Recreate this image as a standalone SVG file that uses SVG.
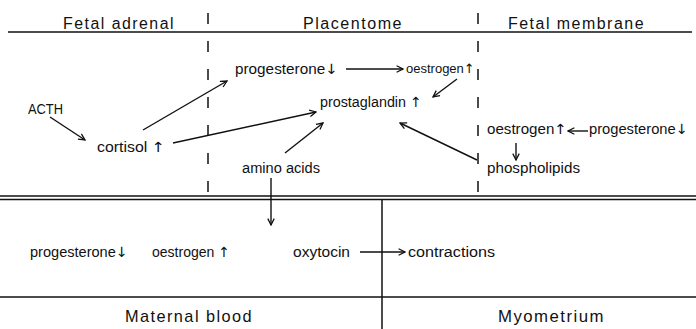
<svg xmlns="http://www.w3.org/2000/svg" width="696" height="329" viewBox="0 0 696 329">
<defs>
<marker id="ah" viewBox="0 0 10 10" refX="9" refY="5" markerWidth="8" markerHeight="8" orient="auto" markerUnits="userSpaceOnUse">
<path d="M1,1 L9,5 L1,9" fill="none" stroke="#111" stroke-width="1.6"/>
</marker>
</defs>
<style>
text{font-family:"Liberation Sans",Arial,sans-serif;fill:#111}
.h{font-size:16px;letter-spacing:1.5px}
.b{font-size:17px;letter-spacing:1.5px}
.t{font-size:14px}
.s{font-size:13px}
.a{font-family:"DejaVu Sans",sans-serif;fill:#111}
.ln{stroke:#111;stroke-width:1.5;fill:none}
.ds{stroke:#111;stroke-width:1.5;stroke-dasharray:11,17;fill:none}
.c{stroke:#111;stroke-width:1.4;fill:none;marker-end:url(#ah)}
</style>
<rect width="696" height="329" fill="#fff"/>
<g id="frame">
<line class="ln" x1="8" y1="32" x2="692" y2="32"/>
<line class="ln" x1="0" y1="196" x2="696" y2="196"/>
<line class="ln" x1="0" y1="199.5" x2="696" y2="199.5"/>
<line class="ln" x1="0" y1="297" x2="696" y2="297"/>
<line class="ln" x1="382" y1="199" x2="382" y2="329"/>
<line class="ds" x1="208" y1="13" x2="208" y2="203"/>
<line class="ds" x1="478" y1="13" x2="478" y2="203"/>
<text class="h" x="63" y="29" textLength="112" lengthAdjust="spacingAndGlyphs">Fetal adrenal</text>
<text class="h" x="303" y="29" textLength="100" lengthAdjust="spacingAndGlyphs">Placentome</text>
<text class="h" x="508" y="29" textLength="137" lengthAdjust="spacingAndGlyphs">Fetal membrane</text>
<text class="b" x="125" y="322" textLength="128" lengthAdjust="spacingAndGlyphs">Maternal blood</text>
<text class="b" x="498" y="322" textLength="107" lengthAdjust="spacingAndGlyphs">Myometrium</text>
</g>
<g id="n-prog1"><text class="t" x="235" y="74" textLength="103" lengthAdjust="spacingAndGlyphs">progesterone<tspan class="a">↓</tspan></text></g>
<g id="n-oest1"><text class="s" x="406" y="73">oestrogen<tspan class="a">↑</tspan></text></g>
<g id="n-prost"><text class="t" x="320" y="107" textLength="102" lengthAdjust="spacingAndGlyphs">prostaglandin <tspan class="a">↑</tspan></text></g>
<g id="n-acth"><text class="t" x="28" y="114" textLength="35" lengthAdjust="spacingAndGlyphs">ACTH</text></g>
<g id="n-cort"><text class="t" x="97" y="152" textLength="68" lengthAdjust="spacingAndGlyphs">cortisol <tspan class="a">↑</tspan></text></g>
<g id="n-amino"><text class="t" x="242" y="173" textLength="78" lengthAdjust="spacingAndGlyphs">amino acids</text></g>
<g id="n-oest2"><text class="t" x="487" y="134" textLength="80" lengthAdjust="spacingAndGlyphs">oestrogen<tspan class="a">↑</tspan></text></g>
<g id="n-prog2"><text class="t" x="589" y="134" textLength="99" lengthAdjust="spacingAndGlyphs">progesterone<tspan class="a">↓</tspan></text></g>
<g id="n-phos"><text class="t" x="487" y="173" textLength="93" lengthAdjust="spacingAndGlyphs">phospholipids</text></g>
<g id="n-prog3"><text class="t" x="30" y="257" textLength="98" lengthAdjust="spacingAndGlyphs">progesterone<tspan class="a">↓</tspan></text></g>
<g id="n-oest3"><text class="t" x="152" y="257" textLength="78" lengthAdjust="spacingAndGlyphs">oestrogen <tspan class="a">↑</tspan></text></g>
<g id="n-oxy"><text class="t" x="293" y="257" textLength="57" lengthAdjust="spacingAndGlyphs">oxytocin</text></g>
<g id="n-contr"><text class="t" x="408" y="257" textLength="87" lengthAdjust="spacingAndGlyphs">contractions</text></g>
<g id="connectors">
<line class="c" x1="346" y1="69" x2="403" y2="69"/>
<line class="c" x1="457" y1="79" x2="433" y2="97"/>
<line class="c" x1="50" y1="117" x2="85" y2="140"/>
<line class="c" x1="143" y1="130" x2="227" y2="81"/>
<line class="c" x1="173" y1="143" x2="316" y2="112"/>
<line class="c" x1="285" y1="153" x2="323" y2="123"/>
<line class="c" x1="271" y1="178" x2="271" y2="225"/>
<line class="c" x1="588" y1="131" x2="568" y2="131"/>
<line class="c" x1="516" y1="143" x2="516" y2="160"/>
<line class="c" x1="477" y1="160" x2="400" y2="123"/>
<line class="c" x1="360" y1="252" x2="405" y2="252"/>
</g>
</svg>
